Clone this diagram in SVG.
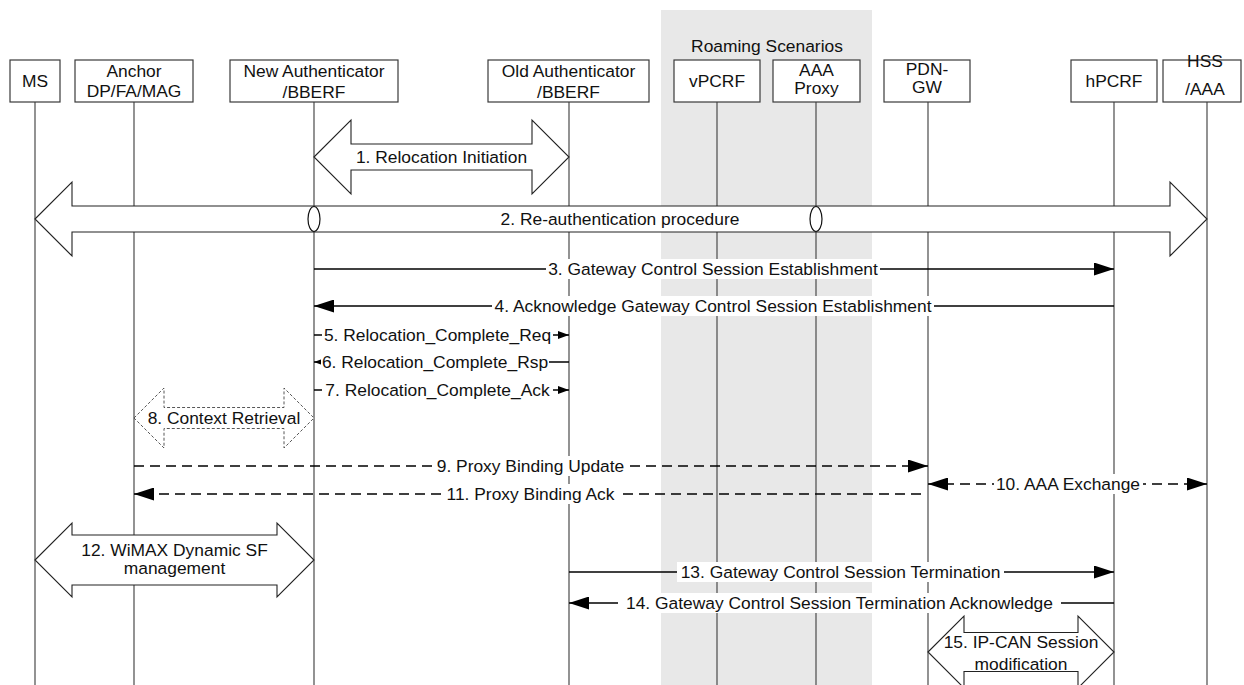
<svg xmlns="http://www.w3.org/2000/svg" width="1244" height="685" viewBox="0 0 1244 685">
  <style>
    text { font-family: "Liberation Sans", Arial, sans-serif; font-size: 17.4px; fill: #111; text-anchor: middle; }
    .box { fill: #fff; stroke: #3a3a3a; stroke-width: 1.2; }
    .life { stroke: #4a4a4a; stroke-width: 1.2; fill: none; }
    .msg { stroke: #000; stroke-width: 1.3; fill: none; }
    .dash { stroke: #000; stroke-width: 1.3; fill: none; stroke-dasharray: 10 6; }
    .blk { fill: #fff; stroke: #222; stroke-width: 1.1; }
    .blkd { fill: #fff; stroke: #444; stroke-width: 0.9; stroke-dasharray: 3 2; }
    .bg { fill: #fff; }
  </style>
  <defs>
    <marker id="head" viewBox="0 0 20 13" refX="20" refY="6.5" markerWidth="20" markerHeight="13" markerUnits="userSpaceOnUse" orient="auto-start-reverse">
      <path d="M0,0L20,6.5L0,13z" fill="#000"/>
    </marker>
    <marker id="headS" viewBox="0 0 11 8" refX="11" refY="4" markerWidth="11" markerHeight="8" markerUnits="userSpaceOnUse" orient="auto-start-reverse">
      <path d="M0,0L11,4L0,8z" fill="#000"/>
    </marker>
  </defs>

  <rect width="1244" height="685" fill="#fff"/>

  <!-- roaming area -->
  <g id="roaming">
    <rect x="661" y="10" width="211" height="675" fill="#e8e8e8"/>
    <text x="767" y="51.5">Roaming Scenarios</text>
  </g>

  <!-- lifelines -->
  <g id="lifelines">
    <line class="life" x1="35" y1="102" x2="35" y2="685"/>
    <line class="life" x1="134" y1="102" x2="134" y2="685"/>
    <line class="life" x1="314" y1="102" x2="314" y2="685"/>
    <line class="life" x1="569" y1="102" x2="569" y2="685"/>
    <line class="life" x1="717" y1="102" x2="717" y2="685"/>
    <line class="life" x1="816" y1="102" x2="816" y2="685"/>
    <line class="life" x1="928" y1="102" x2="928" y2="685"/>
    <line class="life" x1="1114" y1="102" x2="1114" y2="685"/>
    <line class="life" x1="1207" y1="102" x2="1207" y2="685"/>
  </g>

  <!-- participants -->
  <g id="ms">
    <rect class="box" x="10" y="60" width="50" height="42"/>
    <text x="35" y="87.3">MS</text>
  </g>
  <g id="anchor">
    <rect class="box" x="75" y="60" width="118" height="42"/>
    <text x="134" y="76.5">Anchor</text>
    <text x="134" y="96.7">DP/FA/MAG</text>
  </g>
  <g id="new-auth">
    <rect class="box" x="230" y="60" width="168" height="42"/>
    <text x="314" y="77.3">New Authenticator</text>
    <text x="314" y="97.5">/BBERF</text>
  </g>
  <g id="old-auth">
    <rect class="box" x="488" y="60" width="161" height="42"/>
    <text x="568.5" y="77.3">Old Authenticator</text>
    <text x="568.5" y="97.5">/BBERF</text>
  </g>
  <g id="vpcrf">
    <rect class="box" x="674" y="60" width="86" height="42"/>
    <text x="717" y="87.3">vPCRF</text>
  </g>
  <g id="aaa-proxy">
    <rect class="box" x="773" y="60" width="87" height="42"/>
    <text x="816.5" y="76">AAA</text>
    <text x="816.5" y="94">Proxy</text>
  </g>
  <g id="pdn-gw">
    <rect class="box" x="884" y="60" width="86" height="42"/>
    <text x="927" y="75">PDN-</text>
    <text x="927" y="92.7">GW</text>
  </g>
  <g id="hpcrf">
    <rect class="box" x="1071" y="60" width="86" height="42"/>
    <text x="1114" y="87.3">hPCRF</text>
  </g>
  <g id="hss-aaa">
    <rect class="box" x="1163" y="60" width="78" height="42"/>
    <text x="1205" y="66.5">HSS</text>
    <text x="1205" y="95">/AAA</text>
  </g>

  <!-- connectors -->
  <g id="connectors">
    <!-- 1 -->
    <path class="blk" d="M314,157 L351,120 L351,144 L532,144 L532,120 L569,157 L532,194 L532,170 L351,170 L351,194 Z"/>
    <text x="441.5" y="163">1. Relocation Initiation</text>

    <!-- 2 -->
    <path class="blk" d="M35,219 L72,182 L72,206 L1170,206 L1170,182 L1207,219 L1170,256 L1170,232 L72,232 L72,256 Z"/>
    <ellipse cx="314" cy="219" rx="6" ry="12.5" fill="#fff" stroke="#111" stroke-width="1.2"/>
    <ellipse cx="816" cy="219" rx="6" ry="12.5" fill="#fff" stroke="#111" stroke-width="1.2"/>
    <text x="620" y="225">2. Re-authentication procedure</text>

    <!-- 3 -->
    <line class="msg" x1="314" y1="269" x2="1114" y2="269" marker-end="url(#head)"/>
    <rect class="bg" x="546" y="259" width="334" height="20"/>
    <text x="713" y="275">3. Gateway Control Session Establishment</text>

    <!-- 4 -->
    <line class="msg" x1="1114" y1="306" x2="314" y2="306" marker-end="url(#head)"/>
    <rect class="bg" x="492" y="296" width="442" height="20"/>
    <text x="713" y="312">4. Acknowledge Gateway Control Session Establishment</text>

    <!-- 5 -->
    <line class="msg" x1="314" y1="335" x2="569" y2="335" marker-end="url(#headS)"/>
    <rect class="bg" x="322" y="325" width="231" height="20"/>
    <text x="437.5" y="341">5. Relocation_Complete_Req</text>

    <!-- 6 -->
    <line class="msg" x1="569" y1="362" x2="314" y2="362" marker-end="url(#headS)"/>
    <rect class="bg" x="321" y="352" width="228" height="20"/>
    <text x="435" y="368">6. Relocation_Complete_Rsp</text>

    <!-- 7 -->
    <line class="msg" x1="314" y1="390" x2="569" y2="390" marker-end="url(#headS)"/>
    <rect class="bg" x="322" y="380" width="231" height="20"/>
    <text x="437.5" y="396">7. Relocation_Complete_Ack</text>

    <!-- 8 -->
    <path class="blkd" d="M134,418 L164,388 L164,407.5 L284,407.5 L284,388 L314,418 L284,448 L284,428.5 L164,428.5 L164,448 Z"/>
    <text x="224" y="424">8. Context Retrieval</text>

    <!-- 9 -->
    <line class="dash" x1="134" y1="466" x2="928" y2="466" marker-end="url(#head)"/>
    <rect class="bg" x="435" y="456" width="191" height="20"/>
    <text x="530.5" y="472">9. Proxy Binding Update</text>

    <!-- 10 -->
    <line class="dash" x1="928" y1="484" x2="1207" y2="484" marker-start="url(#head)" marker-end="url(#head)"/>
    <rect class="bg" x="994" y="474" width="149" height="20"/>
    <text x="1068" y="490">10. AAA Exchange</text>

    <!-- 11 -->
    <line class="dash" x1="921" y1="494" x2="134" y2="494" marker-end="url(#head)"/>
    <rect class="bg" x="444" y="484" width="173" height="20"/>
    <text x="530.5" y="500">11. Proxy Binding Ack</text>

    <!-- 12 -->
    <path class="blk" d="M35,560 L72,523 L72,535 L277,535 L277,523 L314,560 L277,597 L277,585 L72,585 L72,597 Z"/>
    <text x="174.5" y="556">12. WiMAX Dynamic SF</text>
    <text x="174.5" y="574">management</text>

    <!-- 13 -->
    <line class="msg" x1="569" y1="572" x2="1114" y2="572" marker-end="url(#head)"/>
    <rect class="bg" x="677" y="562" width="327" height="20"/>
    <text x="840.5" y="578">13. Gateway Control Session Termination</text>

    <!-- 14 -->
    <line class="msg" x1="1114" y1="603" x2="569" y2="603" marker-end="url(#head)"/>
    <rect class="bg" x="618" y="593" width="443" height="20"/>
    <text x="839.5" y="609">14. Gateway Control Session Termination Acknowledge</text>

    <!-- 15 -->
    <path class="blk" d="M928,652 L964,616 L964,632.5 L1078,632.5 L1078,616 L1114,652 L1078,688 L1078,671.5 L964,671.5 L964,688 Z"/>
    <text x="1021" y="648">15. IP-CAN Session</text>
    <text x="1021" y="670">modification</text>
  </g>
</svg>
